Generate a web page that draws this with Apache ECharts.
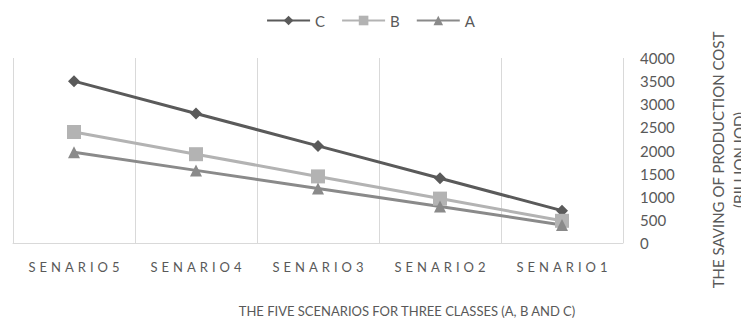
<!DOCTYPE html>
<html>
<head>
<meta charset="utf-8">
<script src="https://cdn.jsdelivr.net/npm/echarts@6/dist/echarts.min.js"></script>
<style>
  html, body { margin: 0; padding: 0; background: #fff; }
  #chart { width: 741px; height: 322px; }
</style>
</head>
<body>
<div id="chart"></div>
<script>
// Scenario categories, left to right
const categories = ['SENARIO5', 'SENARIO4', 'SENARIO3', 'SENARIO2', 'SENARIO1'];

// Saving of production cost per class (billion IQD)
const seriesC = [3500, 2800, 2100, 1400, 700];
const seriesB = [2400, 1920, 1440, 960, 480];
const seriesA = [1960, 1570, 1180, 790, 390];

// Value axis ticks
const yMin = 0;
const yMax = 4000;
const yStep = 500;

const FONT = 'Lato';
const TEXT = '#595959';
const GRID = '#d9d9d9';

const chart = echarts.init(document.getElementById('chart'), null, { renderer: 'svg' });

function lineSeries(name, data, color, symbol, size) {
  return {
    name: name,
    type: 'line',
    data: data,
    symbol: symbol,
    symbolSize: size,
    showSymbol: true,
    lineStyle: { color: color, width: 3 },
    itemStyle: { color: color },
    emphasis: { disabled: true }
  };
}

chart.setOption({
  animation: false,
  backgroundColor: '#fff',
  textStyle: { fontFamily: FONT },
  title: {
    text: 'THE FIVE SCENARIOS FOR THREE CLASSES (A, B AND C)',
    left: 407,
    top: 304,
    padding: 0,
    textAlign: 'center',
    textStyle: { fontFamily: FONT, fontSize: 13, fontWeight: 'normal', color: TEXT }
  },
  legend: {
    data: ['C', 'B', 'A'],
    top: 8,
    left: 'center',
    itemWidth: 43,
    itemHeight: 12,
    itemGap: 16,
    textStyle: { fontFamily: FONT, fontSize: 15, color: TEXT }
  },
  grid: { left: 13, right: 118, top: 58, bottom: 79, containLabel: false },
  xAxis: {
    type: 'category',
    data: categories,
    boundaryGap: true,
    axisLine: { show: true, lineStyle: { color: GRID, width: 1 } },
    axisTick: { show: false },
    splitLine: { show: true, lineStyle: { color: GRID, width: 1 } },
    axisLabel: { margin: 17, fontFamily: FONT, fontSize: 13, color: TEXT }
  },
  yAxis: {
    type: 'value',
    position: 'right',
    min: yMin,
    max: yMax,
    interval: yStep,
    axisLine: { show: false },
    axisTick: { show: false },
    splitLine: { show: false },
    axisLabel: {
      margin: 17,
      fontFamily: FONT,
      fontSize: 15,
      color: TEXT,
      formatter: function (v) { return String(v); }
    }
  },
  graphic: [{
    type: 'text',
    x: 728,
    y: 160,
    rotation: Math.PI / 2,
    style: {
      text: 'THE SAVING OF PRODUCTION COST\n(BILLION IQD)',
      fontFamily: FONT,
      fontSize: 15,
      lineHeight: 21,
      fill: TEXT,
      align: 'center',
      verticalAlign: 'middle'
    }
  }],
  series: [
    lineSeries('C', seriesC, '#5a5a5a', 'diamond', 12),
    lineSeries('B', seriesB, '#b3b3b3', 'rect', 14),
    lineSeries('A', seriesA, '#8a8a8a', 'triangle', 12)
  ]
});

// Category labels are tracked out
function spaceCategoryLabels() {
  document.querySelectorAll('#chart svg text').forEach(function (t) {
    if (categories.indexOf(t.textContent) >= 0) {
      t.setAttribute('letter-spacing', '4px');
      t.setAttribute('dx', '2');
    }
  });
}
chart.on('finished', spaceCategoryLabels);
setTimeout(spaceCategoryLabels, 50);
</script>
</body>
</html>
